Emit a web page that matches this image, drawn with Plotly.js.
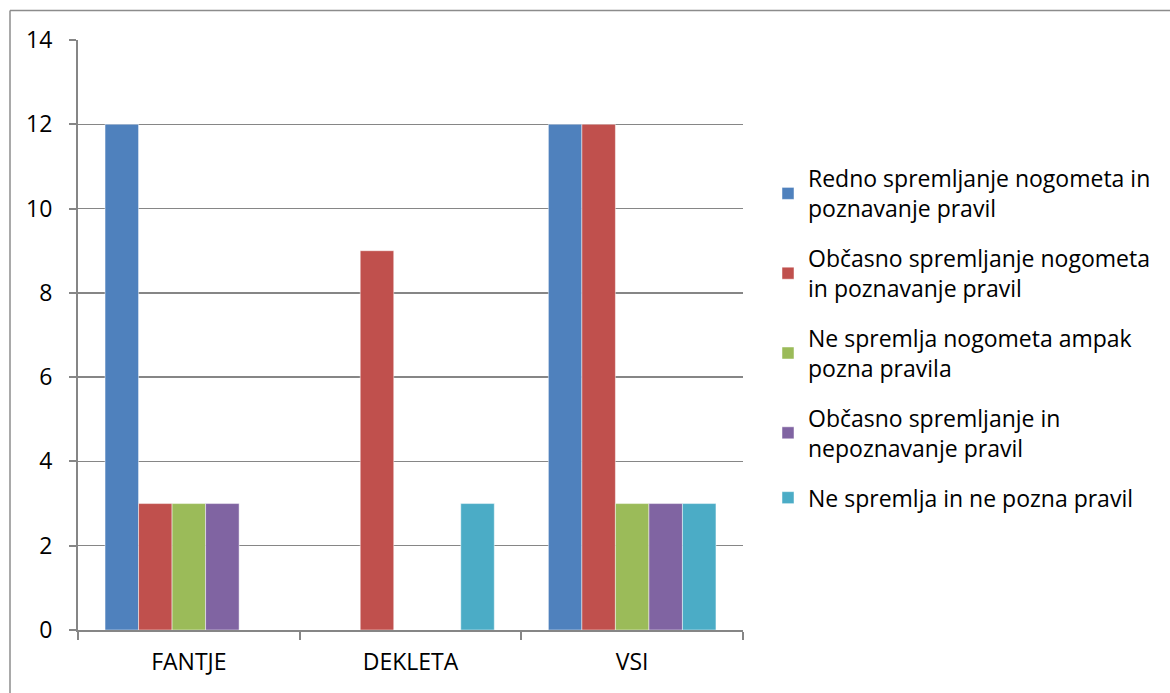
<!DOCTYPE html>
<html>
<head>
<meta charset="utf-8">
<script src="https://cdn.plot.ly/plotly-3.0.1.min.js"></script>
<style>
html,body{margin:0;padding:0;background:#fff;}
#chart{width:1170px;height:693px;}
</style>
</head>
<body>
<div id="chart"></div>
<script>
const categories = ['FANTJE', 'DEKLETA', 'VSI'];
const seriesNames = [
  'Redno spremljanje nogometa in<br>poznavanje pravil',
  'Občasno spremljanje nogometa<br>in poznavanje pravil',
  'Ne spremlja nogometa ampak<br>pozna pravila',
  'Občasno spremljanje in<br>nepoznavanje pravil',
  'Ne spremlja in ne pozna pravil'
];
const redno = [12, 0, 12];
const obcasno = [3, 9, 12];
const neSpremljaPozna = [3, 0, 3];
const obcasnoNepoznavanje = [3, 0, 3];
const neSpremljaNePozna = [0, 3, 3];
const colors = ['#4F81BD', '#C0504D', '#9BBB59', '#8064A2', '#4BACC6'];

const seriesValues = [redno, obcasno, neSpremljaPozna, obcasnoNepoznavanje, neSpremljaNePozna];

const W = 1170, H = 693;
const L = 78, R = 427, T = 40, B = 63;
const pw = W - L - R, ph = H - T - B;
const px = x => (x - L) / pw;
const py = y => (H - B - y) / ph;

const traces = seriesValues.map((vals, i) => ({
  type: 'bar',
  x: categories,
  y: vals,
  name: seriesNames[i],
  legendgroup: 'g' + i,
  marker: {color: colors[i], line: {color: 'rgba(255,255,255,0.6)', width: 0.8}},
  hoverinfo: 'none'
}));

const font = {family: '"Open Sans", sans-serif', size: 23, color: '#000'};

const layout = {
  width: W, height: H,
  margin: {l: L, r: R, t: T, b: B, pad: 0},
  paper_bgcolor: '#fff',
  plot_bgcolor: '#fff',
  font: font,
  barmode: 'group',
  bargap: 0.244,
  bargroupgap: 0,
  showlegend: true,
  legend: {
    x: px(768), xanchor: 'left',
    y: py(157), yanchor: 'top',
    font: {family: '"Open Sans", sans-serif', size: 23, color: '#000'},
    tracegroupgap: 17,
    bgcolor: 'rgba(0,0,0,0)'
  },
  xaxis: {
    type: 'category',
    showline: true, linecolor: '#868686', linewidth: 2,
    ticks: 'outside', tickson: 'boundaries', ticklen: 8, tickcolor: '#868686', tickwidth: 2,
    showgrid: false,
    tickfont: font,
    ticklabelstandoff: 10,
    fixedrange: true
  },
  yaxis: {
    range: [0, 14],
    dtick: 2,
    showline: true, linecolor: '#868686', linewidth: 2,
    ticks: 'outside', ticklen: 7, tickcolor: '#868686', tickwidth: 2,
    showgrid: true, gridcolor: '#868686', gridwidth: 1.5,
    zeroline: false,
    tickfont: font,
    ticklabelstandoff: 12,
    fixedrange: true
  },
  shapes: [
    {type: 'line', xref: 'paper', yref: 'paper', x0: px(10), x1: px(1300), y0: py(10.5), y1: py(10.5), line: {color: '#8C8C8C', width: 1.5}},
    {type: 'line', xref: 'paper', yref: 'paper', x0: px(10), x1: px(10), y0: py(10.5), y1: py(800), line: {color: '#8C8C8C', width: 1.5}}
  ]
};

Plotly.newPlot('chart', traces, layout, {staticPlot: true, displayModeBar: false});
</script>
</body>
</html>
